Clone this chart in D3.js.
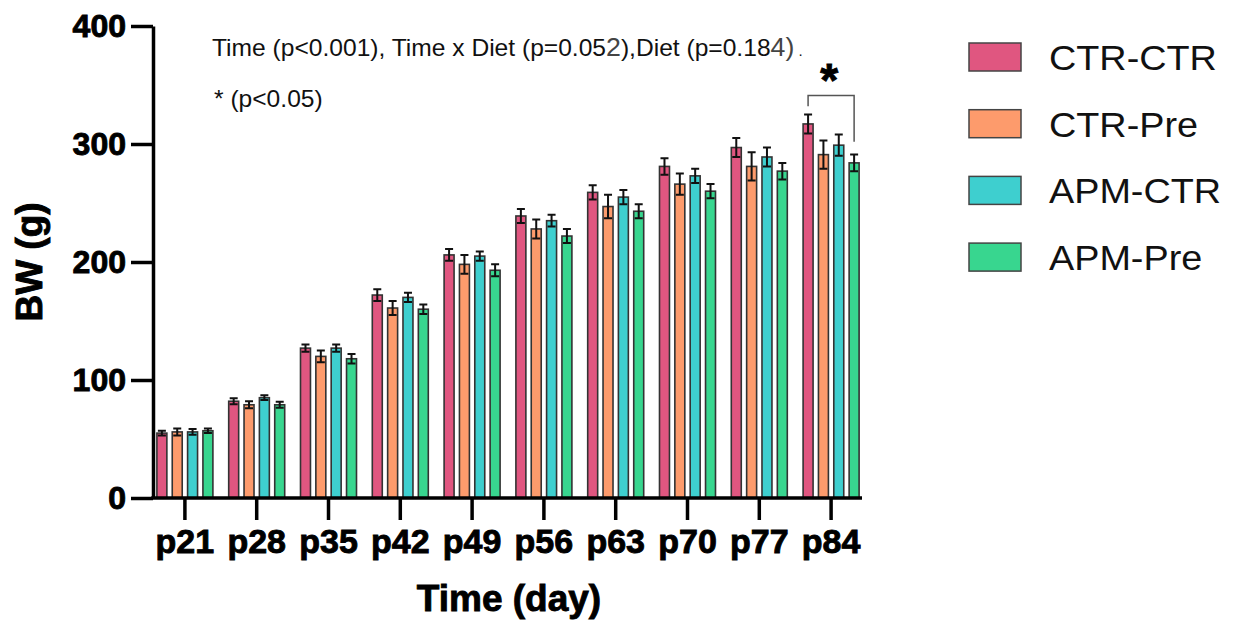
<!DOCTYPE html>
<html>
<head>
<meta charset="utf-8">
<script src="https://cdn.jsdelivr.net/npm/d3@7"></script>
<style>
  body { margin: 0; background: #fff; }
  svg { display: block; font-family: "Liberation Sans", Arial, Helvetica, sans-serif; }
</style>
</head>
<body>
<div></div>
<script>
const width = 1234;
const height = 623;

// data (body weight, g)
const days = ["p21", "p28", "p35", "p42", "p49", "p56", "p63", "p70", "p77", "p84"];
const groups = ["CTR-CTR", "CTR-Pre", "APM-CTR", "APM-Pre"];
const colours = ["#e05680", "#fd9b6c", "#3ecfcf", "#38d68f"];

const ctrCtr = [55, 82, 127, 172, 206, 239, 259, 281, 297, 317];
const ctrPre = [56, 79, 120, 161, 198, 228, 247, 266, 281, 291];
const apmCtr = [56, 85, 127, 170, 205, 235, 255, 273, 289, 299];
const apmPre = [57, 79, 118, 160, 193, 222, 243, 260, 277, 284];

const ctrCtrErr = [2, 2.5, 3, 5, 5, 6, 6, 7, 8, 8];
const ctrPreErr = [3, 3, 5, 6, 8, 8, 10, 9, 12, 12];
const apmCtrErr = [2.5, 2, 3, 4, 4, 5, 6, 6, 8, 9];
const apmPreErr = [2, 2.5, 4, 4, 5, 6, 6, 6, 7, 7];

const yTicks = [0, 100, 200, 300, 400];

// significance bracket at p84 (values in g)
const bracket = { day: "p84", from: "CTR-CTR", to: "APM-Pre", top: 341, left: 332, right: 302, star: 363 };

const means = [ctrCtr, ctrPre, apmCtr, apmPre];
const errs = [ctrCtrErr, ctrPreErr, apmCtrErr, apmPreErr];

const rows = [];
days.forEach((d, i) => {
  groups.forEach((g, j) => {
    rows.push({ day: d, group: g, mean: means[j][i], err: errs[j][i], colour: colours[j] });
  });
});

const svg = d3
  .select("div")
  .append("svg")
  .attr("width", width)
  .attr("height", height);

const axisX = 153;

const x = d3
  .scaleBand()
  .domain(days)
  .range([149, 867])
  .paddingInner(0.22)
  .paddingOuter(0.11);

const xIn = d3
  .scaleBand()
  .domain(groups)
  .range([0, x.bandwidth()])
  .paddingInner(0.35)
  .paddingOuter(0);

const y = d3.scaleLinear().domain([0, 400]).range([498, 26]);

// bars
const bars = svg.append("g");
bars
  .selectAll("rect")
  .data(rows)
  .enter()
  .append("rect")
  .attr("x", (d) => x(d.day) + xIn(d.group))
  .attr("y", (d) => y(d.mean))
  .attr("width", xIn.bandwidth())
  .attr("height", (d) => y(0) - y(d.mean))
  .attr("fill", (d) => d.colour)
  .attr("stroke", "#333")
  .attr("stroke-width", 1.6);

// error bars
const cap = 4;
const eb = svg.append("g").attr("stroke", "#111").attr("stroke-width", 2).attr("fill", "none");
eb.selectAll("path")
  .data(rows)
  .enter()
  .append("path")
  .attr("d", (d) => {
    const cx = x(d.day) + xIn(d.group) + xIn.bandwidth() / 2;
    const t = y(d.mean + d.err);
    const b = y(d.mean - d.err);
    return `M${cx},${b}V${t}M${cx - cap},${t}H${cx + cap}M${cx - cap},${b}H${cx + cap}`;
  });

// bold labels a bit heavier, like the original export
function heavy(sel, size) {
  sel.attr("font-size", size)
    .attr("font-weight", "bold")
    .attr("fill", "#000")
    .attr("stroke", "#000")
    .attr("stroke-width", 0.9)
    .attr("font-family", "'Liberation Sans', Arial, sans-serif");
}

// y axis
const yAxis = d3.axisLeft(y).tickValues(yTicks).tickSize(22).tickSizeOuter(0).tickPadding(5);
const gy = svg.append("g").attr("transform", `translate(${axisX},0)`).call(yAxis);
gy.select(".domain").attr("stroke-width", 3.5);
gy.selectAll(".tick line").attr("stroke-width", 3.5);
heavy(gy.selectAll(".tick text"), 32);

// x axis
const xAxis = d3.axisBottom(x).tickSize(22).tickSizeOuter(0).tickPadding(9);
const gx = svg.append("g").attr("transform", `translate(0,${y(0)})`).call(xAxis);
gx.select(".domain").remove();
gx.append("line")
  .attr("x1", axisX - 1.75)
  .attr("x2", x.range()[1] - 5)
  .attr("stroke", "#000")
  .attr("stroke-width", 3.5);
gx.selectAll(".tick line").attr("stroke-width", 3.5);
heavy(gx.selectAll(".tick text"), 34);

// axis titles
heavy(
  svg.append("text")
    .attr("transform", "translate(42,262) rotate(-90)")
    .attr("text-anchor", "middle")
    .text("BW (g)"),
  37
);

heavy(
  svg.append("text")
    .attr("x", 509)
    .attr("y", 611)
    .attr("text-anchor", "middle")
    .text("Time (day)"),
  37
);

// stats annotation
const note = svg.append("text")
  .attr("transform", "translate(212,56) scale(1.07,1)")
  .attr("font-size", 23)
  .attr("fill", "#111");
note.append("tspan").text("Time (p<0.001), Time x Diet (p=0.05");
note.append("tspan").attr("fill", "#444").attr("font-size", 25).text("2");
note.append("tspan").text("),Diet (p=0.18");
note.append("tspan").attr("fill", "#444").attr("font-size", 25).text("4)");
note.append("tspan").attr("font-size", 14).attr("dx", 4).text(".");

svg.append("text")
  .attr("transform", "translate(214,107) scale(1.07,1)")
  .attr("font-size", 23)
  .attr("fill", "#111")
  .text("* (p<0.05)");

// bracket + star
const bx1 = x(bracket.day) + xIn(bracket.from) + xIn.bandwidth() / 2;
const bx2 = x(bracket.day) + xIn(bracket.to) + xIn.bandwidth() / 2;
svg.append("path")
  .attr("d", `M${bx1},${y(bracket.left)}V${y(bracket.top)}H${bx2}V${y(bracket.right)}`)
  .attr("fill", "none")
  .attr("stroke", "#555")
  .attr("stroke-width", 1.5);
heavy(
  svg.append("text")
    .attr("x", (bx1 + bx2) / 2 - 2)
    .attr("y", y(bracket.star) + 26)
    .attr("text-anchor", "middle")
    .text("*"),
  46
);

// legend
const legend = svg.append("g").attr("transform", "translate(969,43)");
const item = legend
  .selectAll("g")
  .data(groups)
  .enter()
  .append("g")
  .attr("transform", (d, i) => `translate(0,${i * 66.7})`);
item.append("rect")
  .attr("width", 52)
  .attr("height", 28)
  .attr("fill", (d, i) => colours[i])
  .attr("stroke", "#444")
  .attr("stroke-width", 1.5);
item.append("text")
  .attr("transform", "translate(80,27) scale(1.08,1)")
  .attr("font-size", 35)
  .attr("fill", "#111")
  .text((d) => d);
</script>
</body>
</html>
